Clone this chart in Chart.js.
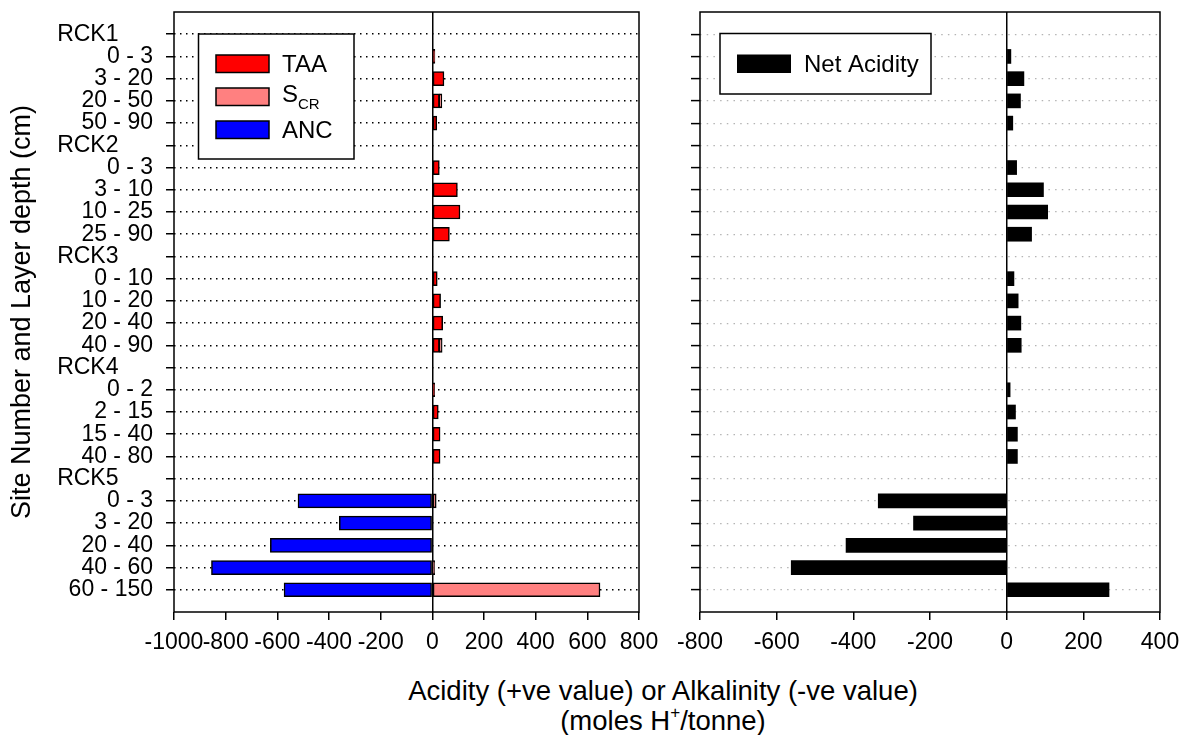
<!DOCTYPE html>
<html>
<head>
<meta charset="utf-8">
<script src="https://cdn.jsdelivr.net/npm/chart.js@4.4.0/dist/chart.umd.min.js"></script>
<style>
  body { margin: 0; background: #fff; width: 1188px; height: 735px; position: relative; overflow: hidden;
         font-family: 'Liberation Sans', Arial, sans-serif; }
  #left { position: absolute; left: 0; top: 0; }
  #right { position: absolute; left: 660px; top: 0; }
  #xtitle { position: absolute; left: 170px; width: 986px; top: 676px; text-align: center;
            font-size: 27.5px; line-height: 30px; color: #000; }
  #xtitle sup { font-size: 17px; line-height: 0; position: relative; top: -2px; }
</style>
</head>
<body>
<canvas id="left" width="660" height="660"></canvas>
<canvas id="right" width="528" height="660"></canvas>
<div id="xtitle">Acidity (+ve value) or Alkalinity (-ve value)<br>(moles H<sup>+</sup>/tonne)</div>
<script>
// rows top to bottom: site header, then its layer depths (cm)
const layers = ['RCK1', '0 - 3', '3 - 20', '20 - 50', '50 - 90',
                'RCK2', '0 - 3', '3 - 10', '10 - 25', '25 - 90',
                'RCK3', '0 - 10', '10 - 20', '20 - 40', '40 - 90',
                'RCK4', '0 - 2', '2 - 15', '15 - 40', '40 - 80',
                'RCK5', '0 - 3', '3 - 20', '20 - 40', '40 - 60', '60 - 150'];

// moles H+/tonne, null = no bar
const taa = [null, 10, 45, 27, 17, null, 27, 97, 107, 66, null, 19, 32, 40, 27,
             null, 9, 23, 30, 30, null, null, null, null, null, null];
const scr = [null, null, null, 10, null, null, null, null, null, null, null, null, null, null, 11,
             null, null, null, null, null, null, 15, null, null, 9, 649];
const anc = [null, null, null, null, null, null, null, null, null, null, null, null, null, null, null,
             null, null, null, null, null, null, -520, -360, -627, -855, -574];
const netAcidity = [null, 11, 45, 36, 16, null, 26, 96, 107, 65, null, 19, 30, 37, 38,
                    null, 9, 23, 28, 28, null, -335, -243, -419, -562, 267];

const leftTicks = [-1000, -800, -600, -400, -200, 0, 200, 400, 600, 800];
const rightTicks = [-800, -600, -400, -200, 0, 200, 400];

Chart.defaults.font.family = "'Liberation Sans', Arial, sans-serif";
Chart.defaults.color = '#000';

function toPoints(arr) {
    return arr.map((v, i) => ({ x: v, y: i })).filter(p => p.x !== null);
}

// frame round the plot area + boxed legend (S_CR -> subscript)
const framePlugin = {
    id: 'frame',
    afterDraw(chart, args, opts) {
        const { ctx, chartArea: a } = chart;
        ctx.save();
        ctx.strokeStyle = '#000';
        ctx.lineWidth = 1.5;
        ctx.strokeRect(a.left, a.top, a.right - a.left, a.bottom - a.top);

        const lg = opts.legend;
        ctx.fillStyle = '#fff';
        ctx.fillRect(lg.x, lg.y, lg.w, lg.h);
        ctx.strokeRect(lg.x, lg.y, lg.w, lg.h);
        chart.data.datasets.forEach((ds, i) => {
            const top = lg.rows[i];
            ctx.fillStyle = ds.backgroundColor;
            ctx.fillRect(lg.sx, top, lg.sw, lg.sh);
            if (ds.borderWidth) {
                ctx.strokeStyle = ds.borderColor;
                ctx.lineWidth = ds.borderWidth;
                ctx.strokeRect(lg.sx, top, lg.sw, lg.sh);
            }
            const [main, sub] = ds.label.split('_');
            ctx.fillStyle = '#000';
            ctx.textAlign = 'left';
            ctx.textBaseline = 'alphabetic';
            ctx.font = "24px 'Liberation Sans', Arial, sans-serif";
            if (sub) {
                ctx.fillText(main, lg.tx, top + lg.sh - 4);
                const w = ctx.measureText(main).width;
                ctx.font = "15px 'Liberation Sans', Arial, sans-serif";
                ctx.fillText(sub, lg.tx + w, top + lg.sh + 3);
            } else {
                ctx.fillText(main, lg.tx, top + lg.sh - 1);
            }
        });
        ctx.restore();
    }
};

function panel(id, datasets, xTicks, o) {
    return new Chart(document.getElementById(id), {
        type: 'bar',
        data: { datasets: datasets },
        options: {
            indexAxis: 'y',
            responsive: false,
            animation: false,
            devicePixelRatio: 1,
            layout: { padding: { left: 0, top: 12, right: o.padRight, bottom: 0 } },
            plugins: {
                legend: { display: false },
                tooltip: { enabled: false },
                frame: { legend: o.legend }
            },
            scales: {
                x: {
                    type: 'linear',
                    stacked: true,
                    min: xTicks[0],
                    max: xTicks[xTicks.length - 1],
                    afterBuildTicks: s => { s.ticks = xTicks.map(v => ({ value: v })); },
                    afterFit: s => { s.height = 48; s.paddingLeft = 0; s.paddingRight = 0; },
                    ticks: { autoSkip: false, maxRotation: 0, padding: 9, font: { size: 23 },
                             callback: v => String(v) },
                    grid: {
                        color: c => (c.tick && c.tick.value === 0) ? '#000' : 'rgba(0,0,0,0)',
                        lineWidth: 1.5,
                        tickColor: '#000',
                        tickWidth: 1.5,
                        tickLength: 8
                    },
                    border: { display: false }
                },
                y: {
                    type: 'linear',
                    stacked: true,
                    reverse: true,
                    offset: false,
                    min: -1,
                    max: layers.length,
                    afterBuildTicks: s => { s.ticks = layers.map((_, i) => ({ value: i })); },
                    afterFit: s => { s.width = o.yWidth; s.paddingTop = 0; s.paddingBottom = 0; },
                    ticks: {
                        autoSkip: false,
                        padding: 13,
                        font: { size: 23 },
                        callback: v => {
                            if (!o.labels) return '';
                            const t = layers[v];
                            return t.startsWith('RCK') ? t + '\u2002\u2002\u2002' : t;
                        }
                    },
                    grid: {
                        offset: false,
                        color: o.gridColor,
                        lineWidth: o.gridWidth,
                        tickColor: '#000',
                        tickWidth: 1.5,
                        tickLength: o.tickLength,
                        tickBorderDash: []
                    },
                    border: { display: false, dash: o.gridDash },
                    title: {
                        display: o.labels,
                        text: 'Site Number and Layer depth (cm)',
                        font: { size: 27 },
                        padding: { top: 6, bottom: 0 }
                    }
                }
            }
        },
        plugins: [framePlugin]
    });
}

panel('left', [
    { label: 'TAA', data: toPoints(taa), backgroundColor: '#ff0000', borderColor: '#000',
      borderWidth: 1.5, borderSkipped: false, barThickness: 14 },
    { label: 'S_CR', data: toPoints(scr), backgroundColor: '#ff8080', borderColor: '#000',
      borderWidth: 1.5, borderSkipped: false, barThickness: 14 },
    { label: 'ANC', data: toPoints(anc), backgroundColor: '#0000ff', borderColor: '#000',
      borderWidth: 1.5, borderSkipped: false, barThickness: 14 }
], leftTicks, {
    padRight: 21, yWidth: 174, labels: true, tickLength: 8,
    gridColor: '#000', gridWidth: 1.5, gridDash: [1.5, 4.5],
    legend: { x: 198.5, y: 34, w: 155.5, h: 125, sx: 216, sw: 53, sh: 17.5, rows: [55, 88, 121], tx: 282 }
});

panel('right', [
    { label: 'Net Acidity', data: toPoints(netAcidity), backgroundColor: '#000', borderWidth: 0,
      barThickness: 14 }
], rightTicks, {
    padRight: 28, yWidth: 40, labels: false, tickLength: 9,
    gridColor: '#b4b4b4', gridWidth: 1.2, gridDash: [1.5, 5.2],
    legend: { x: 60, y: 33.5, w: 211, h: 60.5, sx: 77, sw: 54, sh: 18.5, rows: [54.5], tx: 144 }
});
</script>
</body>
</html>
